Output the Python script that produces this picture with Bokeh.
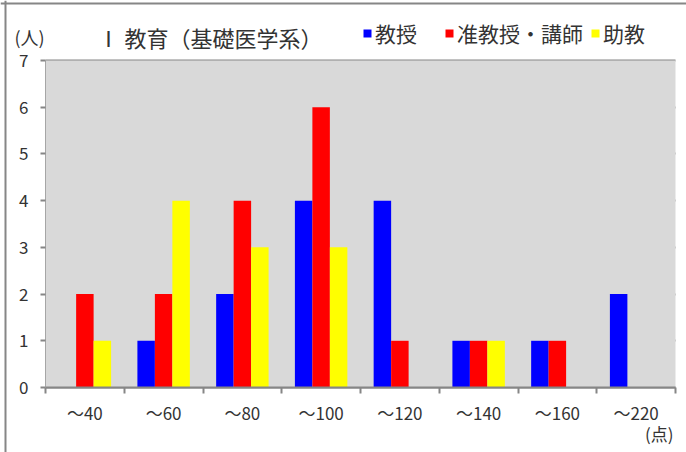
from bokeh.plotting import figure
from bokeh.models import (Range1d, LinearAxis, FixedTicker, Legend, LegendItem, Label,
                          BoxAnnotation, Span)
from bokeh.transform import dodge
from bokeh.embed import file_html
from bokeh.resources import INLINE

# ---- data ----
categories = ["～40", "～60", "～80", "～100", "～120", "～140", "～160", "～220"]
professor = [0, 1, 2, 4, 4, 1, 1, 2]
associate = [2, 2, 4, 6, 1, 1, 1, 0]
assistant = [1, 4, 3, 3, 0, 1, 0, 0]
series_names = ["教授", "准教授・講師", "助教"]
series_colors = ["#0000FF", "#FF0000", "#FFFF00"]
y_ticks = [0, 1, 2, 3, 4, 5, 6, 7]
title_text = "Ⅰ 教育（基礎医学系）"
y_unit = "(人)"
x_unit = "(点)"

FONT = "Noto Sans CJK JP"
GRID = "#868686"
TEXT = "#333333"

n = len(categories)
ymax = y_ticks[-1]
centers = [i + 0.5 for i in range(n)]
edges = list(range(n + 1))

# canvas pixels; plot area spans x 45..675, y 60..387
W, H = 686, 452
PX0, PX1, PY0, PY1 = 45, 675, 387, 60
ux = (PX1 - PX0) / n
uy = (PY0 - PY1) / ymax
x_range = Range1d(-PX0 / ux, (W - PX0) / ux)
y_range = Range1d(-(H - PY0) / uy, PY0 / uy)

p = figure(width=W, height=H, output_backend="svg", toolbar_location=None,
           x_range=x_range, y_range=y_range, x_axis_location=None, y_axis_location=None,
           min_border=0)
p.background_fill_color = "white"
p.border_fill_color = "white"
p.outline_line_color = None

# outer chart-area border (left and top)
p.add_layout(Span(location=-(PX0 - 5) / ux, dimension="height", line_color=GRID, line_width=2))
p.add_layout(Span(location=(PY0 - 3) / uy, dimension="width", line_color=GRID, line_width=2))

p.add_layout(BoxAnnotation(left=0, right=n, bottom=0, top=ymax, fill_color="#D9D9D9",
                           fill_alpha=1, line_color=None, level="underlay"))

p.xgrid.visible = False
p.ygrid.grid_line_color = GRID
p.ygrid.grid_line_width = 2
p.ygrid.ticker = FixedTicker(ticks=y_ticks)
p.ygrid.bounds = (0, ymax)
p.ygrid.cross_bounds = (0, n)

# y axis
ya = LinearAxis(fixed_location=0, bounds=(0, ymax), ticker=FixedTicker(ticks=y_ticks))
ya.axis_line_color = "#A6A6A6"
ya.major_tick_line_color = GRID
ya.major_tick_line_width = 2
ya.major_tick_out = 5
ya.major_tick_in = 0
ya.minor_tick_line_color = None
ya.major_label_standoff = 12
ya.major_label_text_font = FONT
ya.major_label_text_font_size = "17px"
ya.major_label_text_color = TEXT
p.add_layout(ya, "left")

# x axis: labels at category centres, tick marks at category boundaries
xa = LinearAxis(fixed_location=0, bounds=(0, n), ticker=FixedTicker(ticks=centers, minor_ticks=edges))
xa.major_label_overrides = {c: lab for c, lab in zip(centers, categories)}
xa.axis_line_color = GRID
xa.axis_line_width = 2
xa.major_tick_line_color = None
xa.minor_tick_line_color = GRID
xa.minor_tick_line_width = 2
xa.minor_tick_out = 6
xa.minor_tick_in = 0
xa.major_tick_out = 6
xa.major_tick_in = 0
xa.major_label_standoff = 6
xa.major_label_text_font = FONT
xa.major_label_text_font_size = "17px"
xa.major_label_text_color = TEXT
p.add_layout(xa, "below")

data = dict(x=centers, s0=professor, s1=associate, s2=assistant)
bw = 0.222
renderers = []
for i, (col, color) in enumerate(zip(["s0", "s1", "s2"], series_colors)):
    r = p.vbar(x=dodge("x", (i - 1) * bw), top=col, width=bw,
               source=data, fill_color=color, line_color=None)
    renderers.append(r)

# one legend entry per box so each sits where the reference puts it
legend_x = [362, 444, 590]
for nm, r, lx in zip(series_names, renderers, legend_x):
    lg = Legend(items=[LegendItem(label=nm, renderers=[r])],
                orientation="horizontal", location=(lx, 404),
                background_fill_alpha=0, border_line_color=None,
                glyph_width=10, glyph_height=10, label_standoff=3,
                padding=0, margin=0, label_text_font=FONT, label_text_font_size="21px",
                label_text_color=TEXT)
    p.add_layout(lg, "center")

p.add_layout(Label(x=97, y=H - 36, x_units="screen", y_units="screen", text=title_text,
                   text_font=FONT, text_font_size="22px", text_color=TEXT,
                   text_baseline="middle"))
p.add_layout(Label(x=14, y=H - 36, x_units="screen", y_units="screen", text=y_unit,
                   text_font=FONT, text_font_size="18px", text_color=TEXT,
                   text_baseline="middle"))
p.add_layout(Label(x=673, y=H - 433, x_units="screen", y_units="screen", text=x_unit,
                   text_font=FONT, text_font_size="17px", text_color=TEXT,
                   text_baseline="middle", text_align="right"))

open("out.html", "w").write(file_html(p, INLINE))
